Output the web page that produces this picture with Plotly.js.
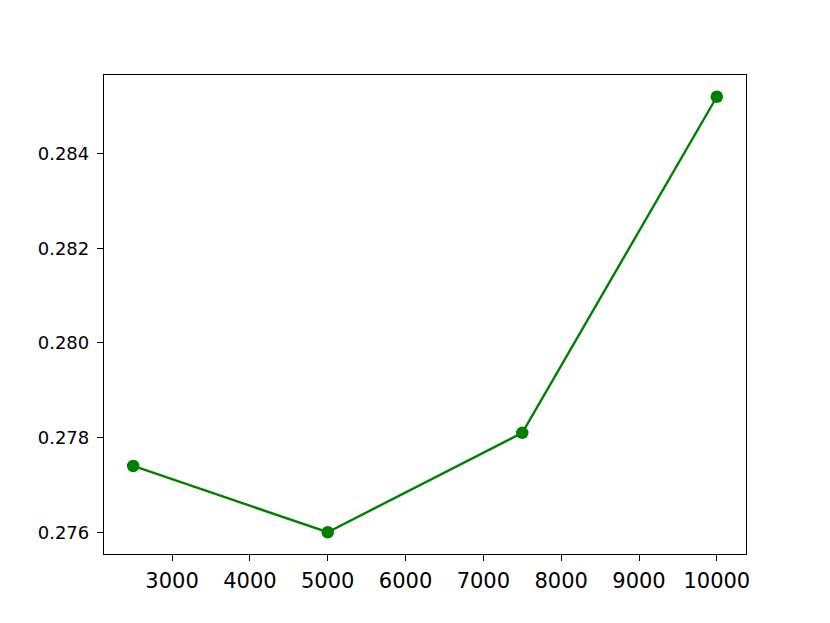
<!DOCTYPE html>
<html>
<head>
<meta charset="utf-8">
<script src="https://cdn.plot.ly/plotly-3.0.1.min.js"></script>
<style>
  body { margin: 0; background: #fff; }
  #myPlot { width: 830px; height: 623px; }
</style>
</head>
<body>
<div id="myPlot"></div>
<script>
// sample sizes and measured values
const xValues = [2500, 5000, 7500, 10000];
const yValues = [0.2774, 0.2760, 0.2781, 0.2852];
const xTicks = [3000, 4000, 5000, 6000, 7000, 8000, 9000, 10000];
const yTicks = [0.276, 0.278, 0.280, 0.282, 0.284];

const trace = {
  x: xValues,
  y: yValues,
  type: "scatter",
  mode: "lines+markers",
  line: { color: "green", width: 2.4 },
  marker: { color: "green", size: 12.5 },
};

const layout = {
  width: 830,
  height: 623,
  margin: { l: 103.5, r: 83.5, t: 74.5, b: 69 },
  paper_bgcolor: "#fff",
  plot_bgcolor: "#fff",
  showlegend: false,
  font: { family: "DejaVu Sans", color: "#000" },
  xaxis: {
    range: [2125, 10375],
    tickvals: xTicks,
    ticktext: xTicks.map(String),
    showgrid: false,
    zeroline: false,
    showline: true,
    mirror: true,
    linecolor: "#000",
    linewidth: 1.3,
    ticks: "outside",
    ticklen: 6,
    tickwidth: 1.2,
    tickcolor: "#000",
    ticklabelstandoff: 2,
    tickfont: { size: 21 },
  },
  yaxis: {
    range: [0.27554, 0.28566],
    tickvals: yTicks,
    ticktext: yTicks.map((v) => v.toFixed(3)),
    showgrid: false,
    zeroline: false,
    showline: true,
    mirror: true,
    linecolor: "#000",
    linewidth: 1.3,
    ticks: "outside",
    ticklen: 6,
    tickwidth: 1.2,
    tickcolor: "#000",
    ticklabelstandoff: 4,
    tickfont: { size: 18 },
  },
};

Plotly.newPlot("myPlot", [trace], layout, { displayModeBar: false });
</script>
</body>
</html>
